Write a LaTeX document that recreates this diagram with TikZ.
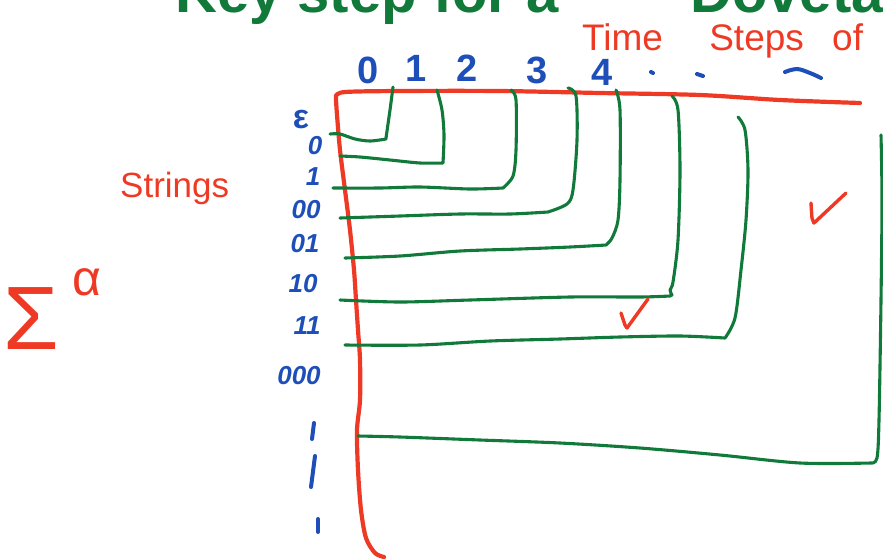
\documentclass[tikz,border=0pt]{standalone}
\usepackage{fontspec}
\setmainfont{Liberation Sans}
\definecolor{pgreen}{HTML}{117A3A}
\definecolor{pred}{HTML}{EE3A24}
\definecolor{pblue}{HTML}{1E4FB8}
\tikzset{
  gline/.style={draw=pgreen,line width=3.1pt,line cap=round,line join=round},
  rline/.style={draw=pred,line width=4.2pt,line cap=round,line join=round},
  bstroke/.style={draw=pblue,line width=4pt,line cap=round},
  btxt/.style={text=pblue,font=\fontsize{38}{40}\selectfont\bfseries,inner sep=0pt},
  bsmall/.style={text=pblue,font=\fontsize{26}{28}\selectfont\bfseries\itshape,inner sep=0pt},
  rtxt/.style={text=pred,font=\fontsize{37}{39}\selectfont,inner sep=0pt},
}
\begin{document}
\begin{tikzpicture}[x=1pt,y=-1pt]
\useasboundingbox (0,0) rectangle (883,558);
% title, cut off at the top as in the reference
\begin{scope}
\clip (0,0) rectangle (883,558);
\node[anchor=base west,text=pgreen,font=\fontsize{58}{60}\selectfont\bfseries,inner sep=0pt] (title1) at (175,12) {Key step for a};
\node[anchor=base west,text=pgreen,font=\fontsize{58}{60}\selectfont\bfseries,inner sep=0pt] (title2) at (690,12) {Dovetailing};
\end{scope}
% red labels
\node[rtxt,anchor=base west] (ts) at (582,50) {Time\hspace{36pt} Steps\hspace{18pt} of};
\node[rtxt,anchor=base west,font=\fontsize{35}{37}\selectfont] (str) at (120,197) {Strings};
\node[rtxt,anchor=base west,font=\fontsize{90}{92}\selectfont] (sig) at (3,349) {Σ};
\node[rtxt,anchor=base west,font=\fontsize{50}{52}\selectfont] (alp) at (72,295) {α};
% red axes
\draw[rline] plot[smooth,tension=0.5] coordinates {(860,103) (780,100) (700,95) (600,93) (500,91) (400,91) (345,92) (336,96)}
  -- plot[smooth,tension=0.5] coordinates {(336,100) (337,115) (340,150) (345,190) (350,230) (354,270) (356,300) (358,330) (360,360) (360,400) (357,430) (358,470) (361,510) (366,538) (375,553) (384,557)};
% green L shapes
\draw[gline] plot[smooth,tension=0.5] coordinates {(393,87) (390,110) (386,138)} -- plot[smooth,tension=0.5] coordinates {(386,139) (370,141) (355,139) (340,134) (330,134)};
\draw[gline] plot[smooth,tension=0.5] coordinates {(437,90) (442,110) (444,135) (443,163)} -- plot[smooth,tension=0.5] coordinates {(443,163) (420,163) (390,160) (360,157) (340,156)};
\draw[gline] plot[smooth,tension=0.5] coordinates {(511,90) (516,100) (516,150) (513,176) (503,188)} -- plot[smooth,tension=0.5] coordinates {(503,188) (470,189) (420,187) (380,188) (333,188)};
\draw[gline] plot[smooth,tension=0.5] coordinates {(568,88) (576,96) (577,140) (573,190) (567,204) (548,212)} -- plot[smooth,tension=0.5] coordinates {(548,212) (510,214) (460,214) (400,216) (340,218)};
\draw[gline] plot[smooth,tension=0.5] coordinates {(616,90) (620,110) (620,180) (618,220) (612,238) (606,245)} -- plot[smooth,tension=0.5] coordinates {(606,245) (570,247) (520,249) (460,251) (400,256) (345,258)};
\draw[gline] plot[smooth,tension=0.5] coordinates {(672,96) (678,110) (680,170) (678,240) (673,282) (670,290) (672,295)} -- plot[smooth,tension=0.5] coordinates {(670,296) (640,297) (570,297) (470,300) (400,302) (340,300)};
\draw[gline] plot[smooth,tension=0.5] coordinates {(738,117) (745,130) (748,170) (746,220) (741,270) (735,318) (725,338)} -- plot[smooth,tension=0.5] coordinates {(725,338) (680,336) (620,337) (560,339) (490,341) (420,345) (345,345)};
\draw[gline] plot[smooth,tension=0.5] coordinates {(881,135) (882,200) (881,300) (879,420) (877,458) (871,463)} -- plot[smooth,tension=0.5] coordinates {(871,463) (800,463) (720,455) (640,448) (560,443) (480,440) (400,437) (358,436)};
% red checks
\draw[rline,line width=3.4pt] plot[smooth,tension=0.3] coordinates {(621,313) (625,325) (627,328)} -- (648,299);
\draw[rline,line width=3.4pt] plot[smooth,tension=0.3] coordinates {(811,203) (812,218) (814,223)} -- (846,193);
% blue column labels
\node[btxt] (c0) at (368,70) {0};
\node[btxt] (c1) at (416,68) {1};
\node[btxt] (c2) at (467,68) {2};
\node[btxt] (c3) at (537,70) {3};
\node[btxt] (c4) at (602,72) {4};
\draw[bstroke] (651,72) -- (653,73);
\draw[bstroke] (697,74) -- (703,76);
\draw[bstroke] plot[smooth,tension=0.6] coordinates {(785,72) (797,69) (810,73) (821,78)};
% blue row labels
\node[bsmall,font=\fontsize{34}{36}\selectfont\bfseries] (r0) at (301,120) {ε};
\node[bsmall] (r1) at (315,146) {0};
\node[bsmall] (r2) at (313,177) {1};
\node[bsmall] (r3) at (306,210) {00};
\node[bsmall] (r4) at (305,244) {01};
\node[bsmall] (r5) at (303,284) {10};
\node[bsmall] (r6) at (307,326) {11};
\node[bsmall] (r7) at (299,376) {000};
\draw[bstroke] (314,423) -- (312,439);
\draw[bstroke] (315,456) -- (311,487);
\draw[bstroke] (318,519) -- (318,532);
\end{tikzpicture}
\end{document}
